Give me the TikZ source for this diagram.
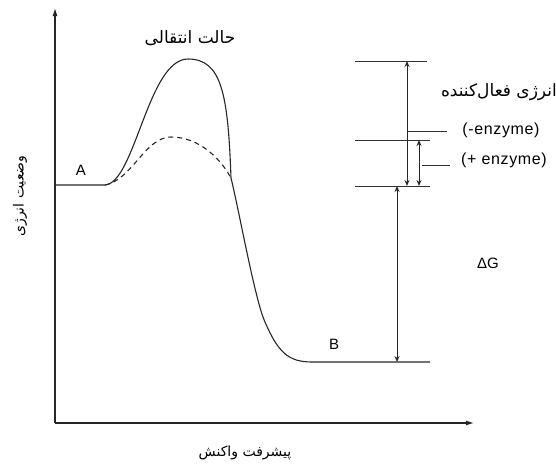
\documentclass[tikz,border=0pt]{standalone}
\usepackage{fontspec}
\setmainfont{Liberation Sans}
\newfontfamily\arabicfont[Script=Arabic]{DejaVu Sans}
\TeXXeTstate=1
\usetikzlibrary{arrows.meta}
\begin{document}
\begin{tikzpicture}[x=1pt,y=-1pt,
  ln/.style={line width=1.1pt,black!85},
  thin/.style={line width=0.8pt,black!80},
  dbl/.style={line width=0.9pt,black!85,{Stealth[length=6pt,width=5pt,open]}-{Stealth[length=6pt,width=5pt,open]}},
  en/.style={font=\fontsize{16}{18}\selectfont\addfontfeature{LetterSpace=4},inner sep=0pt},
  lt/.style={font=\fontsize{15}{17}\selectfont,inner sep=0pt},
  fa/.style={font=\arabicfont\fontsize{14}{16}\selectfont,inner sep=0pt},
  fab/.style={font=\arabicfont\fontsize{17}{19}\selectfont,inner sep=0pt}]
\useasboundingbox (0,0) rectangle (556,471);
% axes
\coordinate (O) at (55,423);
\coordinate (Ytop) at (55,8);
\coordinate (Xend) at (474,423);
\draw[ln,-{Latex[length=8pt,width=5pt]}] (O) -- (Ytop);
\draw[ln,-{Latex[length=8pt,width=5pt]}] (O) -- (Xend);
% solid curve
\draw[ln] (55,185) -- (105,185)
  .. controls (135,183) and (148,59) .. (188,59)
  .. controls (222,59) and (228,95) .. (231,178)
  .. controls (240,215) and (255,300) .. (265,322)
  .. controls (278,352) and (288,362) .. (312,362) -- (430,362);
% dashed curve
\draw[ln,dashed,dash pattern=on 5pt off 4pt] (105,185)
  .. controls (132,180) and (145,137) .. (171,137)
  .. controls (200,137) and (222,160) .. (232,180);
% level lines
\draw[thin] (355,61) -- (427,61);
\draw[thin] (355,140) -- (430,140);
\draw[thin] (355,186) -- (430,186);
% arrows
\draw[dbl] (407,61) -- (407,186);
\draw[dbl] (419,140) -- (419,186);
\draw[dbl] (397,186) -- (397,362);
% label leaders
\draw[thin] (408,131) -- (447,131);
\draw[thin] (422,165) -- (450,165);
% labels
\node[fab] (ts) at (190,38) {\beginR حالت انتقالی\endR};
\node[fab,anchor=east] (ea) at (557,92) {\beginR انرژی فعال‌کننده\endR};
\node[en] (me) at (501,130) {(-enzyme)};
\node[en] (pe) at (504,160) {(+ enzyme)};
\node[lt] (dg) at (488,263) {ΔG};
\node[lt] (A) at (81,170) {A};
\node[lt] (B) at (334,344) {B};
\node[fa,rotate=90] (yl) at (20,196) {\beginR وضعیت انرژی\endR};
\node[fa] (xl) at (245,453) {\beginR پیشرفت واکنش\endR};
\end{tikzpicture}
\end{document}
